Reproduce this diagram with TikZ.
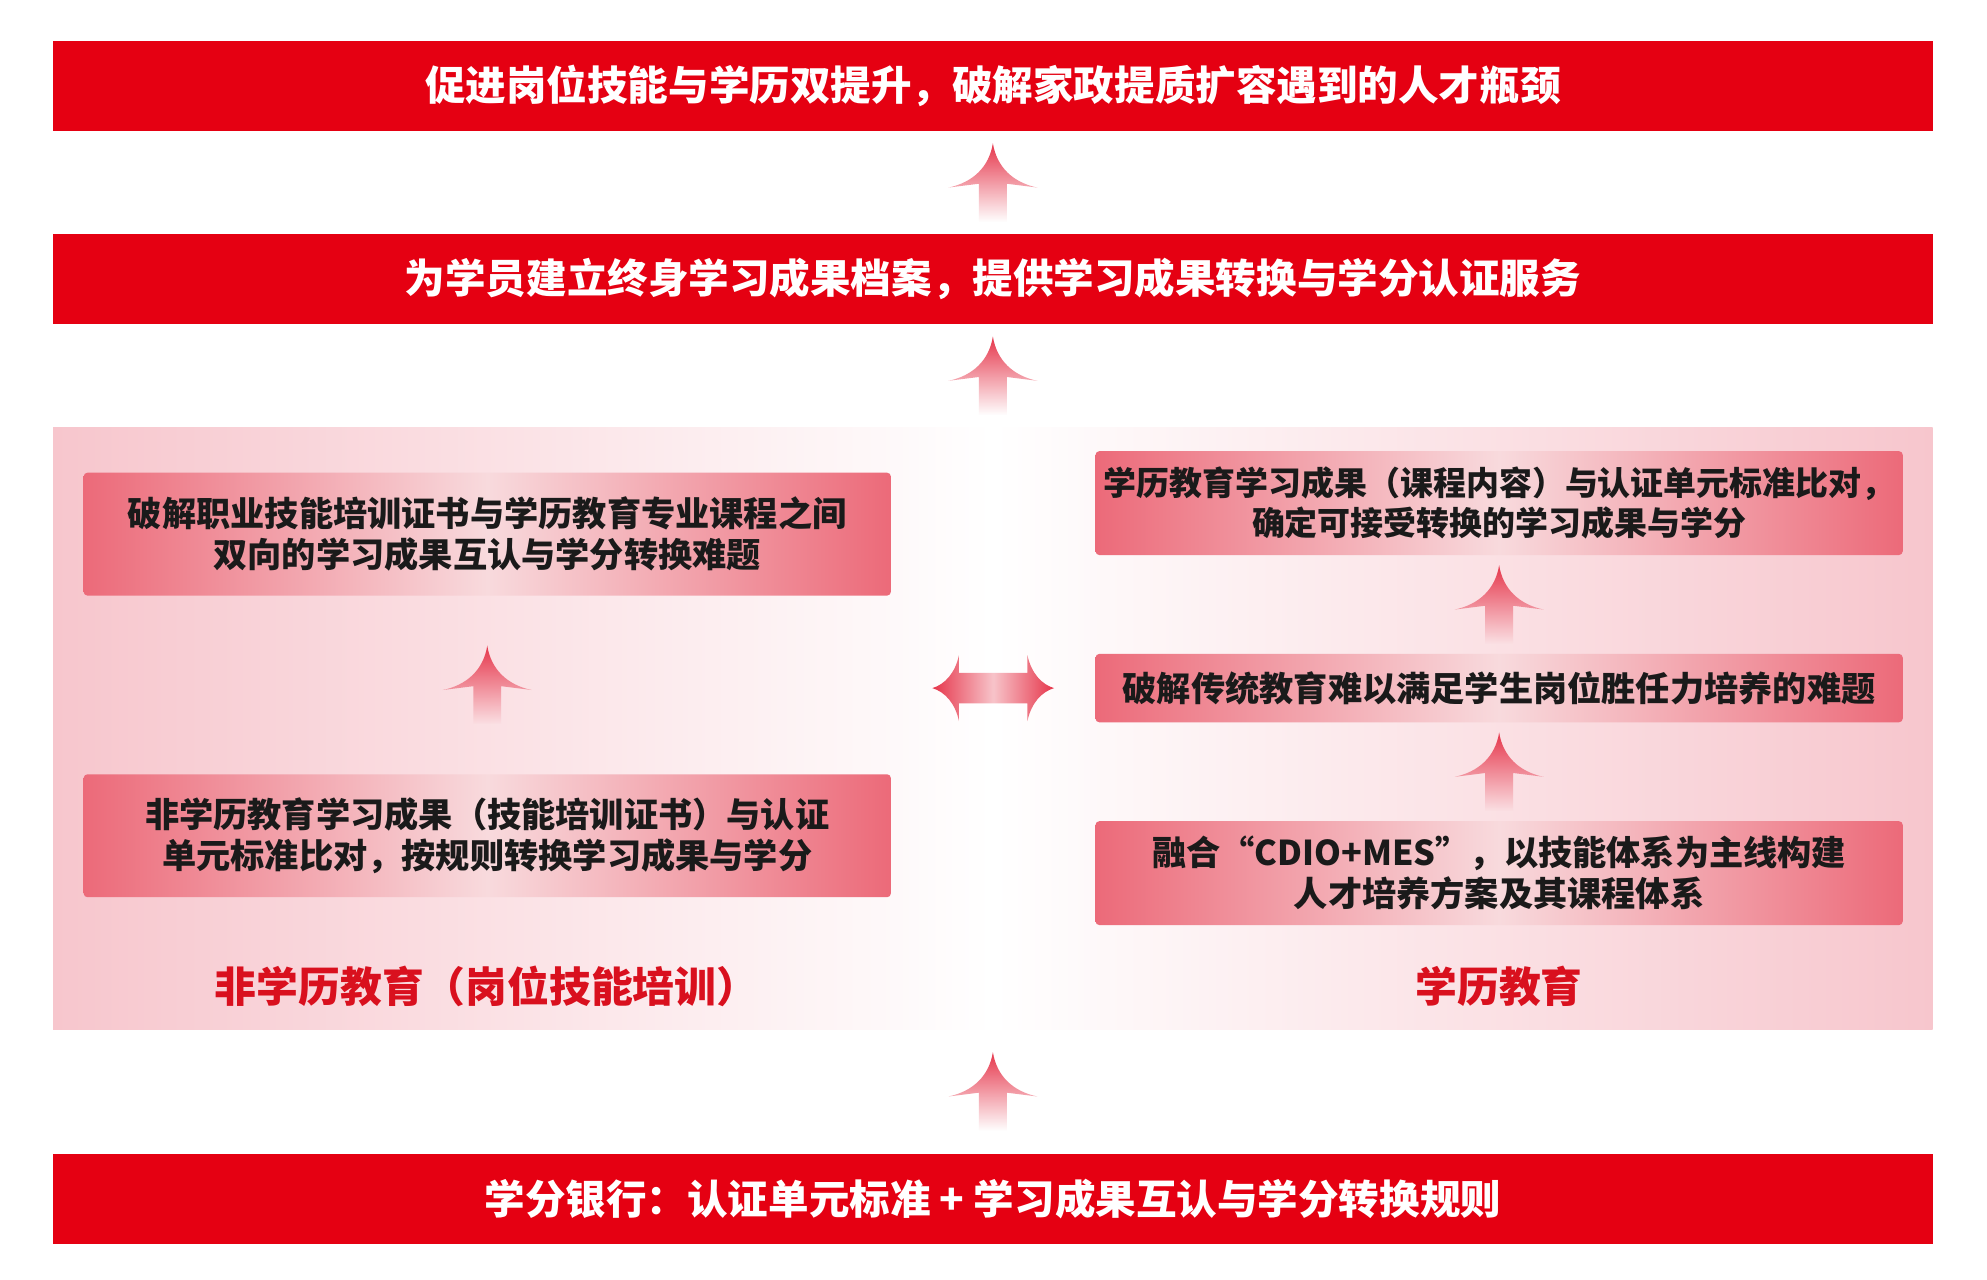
\documentclass[tikz,border=0pt]{standalone}
\usepackage{fontspec}
\setmainfont{Noto Sans CJK SC}[BoldFont={Noto Sans CJK SC Black}]
\usetikzlibrary{calc,fadings}

\definecolor{barred}{HTML}{E50012}
\definecolor{arrowred}{HTML}{E6364B}
\definecolor{boxred}{HTML}{EC6A79}
\definecolor{boxlight}{HTML}{F8DADD}
\definecolor{panelpink}{HTML}{F7C6CD}
\definecolor{labred}{HTML}{D9101E}
\definecolor{txt}{HTML}{1A1A1A}

\tikzfading[name=fadedown, top color=transparent!0, bottom color=transparent!100]

\tikzset{
	redbar/.style={fill=barred, text=white, minimum width=1483pt, minimum height=71pt, inner sep=0pt, font=\bfseries\fontsize{32}{38}\selectfont},
	pinkbox/.style={left color=boxred, right color=boxred, middle color=boxlight, rounded corners=3pt, minimum width=637pt, inner sep=0pt, align=center, text=txt, font=\bfseries\fontsize{27}{32}\selectfont},
	track/.style={left color=panelpink, right color=panelpink, middle color=white, minimum width=1483pt, minimum height=475pt, inner sep=0pt},
	sidelabel/.style={text=labred, font=\bfseries\fontsize{33}{38}\selectfont}
}

% arrow pointing up, centred in the gap between two nodes
\newcommand{\risearrow}[2]{%
	\fill[arrowred, path fading=fadedown, shift={($(#1.north)!0.5!(#2.south)$)}]
		(0,-31) .. controls (3,-12) and (16,0) .. (35,4) -- (11,1) -- (11,31) -- (-11,31) -- (-11,1) -- (-35,4) .. controls (-16,0) and (-3,-12) .. (0,-31) -- cycle;}

\begin{document}
\begin{tikzpicture}[x=1pt, y=-1pt]
	\fill[white] (0,0) rectangle (1568,1010);
	\useasboundingbox (0,0) rectangle (1568,1010);

	\node[redbar] (goal) at (783.5,67.5) {促进岗位技能与学历双提升，破解家政提质扩容遇到的人才瓶颈};
	\node[redbar] (archive) at (783.5,220.5) {为学员建立终身学习成果档案，提供学习成果转换与学分认证服务};
	\node[track] (panel) at (783.5,574.5) {};
	\node[redbar] (bank) at (783.5,946) {学分银行：认证单元标准 + 学习成果互认与学分转换规则};

	\node[pinkbox, minimum height=97pt] (nonA) at (384.5,421.5) {破解职业技能培训证书与学历教育专业课程之间\\双向的学习成果互认与学分转换难题};
	\node[pinkbox, minimum height=97pt] (nonB) at (384.5,659.5) {非学历教育学习成果（技能培训证书）与认证\\单元标准比对，按规则转换学习成果与学分};
	\node[sidelabel] (nonlab) at (384,778) {非学历教育（岗位技能培训）};

	\node[pinkbox, minimum height=82pt, font=\bfseries\fontsize{26}{32}\selectfont] (eduC) at (1183,397) {学历教育学习成果（课程内容）与认证单元标准比对，\\确定可接受转换的学习成果与学分};
	\node[pinkbox, minimum height=54pt] (eduD) at (1183,543) {破解传统教育难以满足学生岗位胜任力培养的难题};
	\node[pinkbox, minimum height=82pt] (eduE) at (1183,689) {融合“CDIO+MES”，以技能体系为主线构建\\人才培养方案及其课程体系};
	\node[sidelabel] (edulab) at (1183,778) {学历教育};

	\risearrow{archive}{goal}
	\risearrow{panel}{archive}
	\risearrow{bank}{panel}
	\risearrow{nonB}{nonA}
	\risearrow{eduD}{eduC}
	\risearrow{eduE}{eduD}

	\coordinate (swap) at ($(nonA.east)!0.5!(eduD.west)$);
	\shade[left color=arrowred, right color=arrowred, middle color=boxred!40!white, shift={(swap |- eduD)}]
		(-48,0) .. controls (-38,-3) and (-30,-12) .. (-27,-26) -- (-27,-12) -- (27,-12) -- (27,-26) .. controls (30,-12) and (38,-3) .. (48,0)
		.. controls (38,3) and (30,12) .. (27,26) -- (27,12) -- (-27,12) -- (-27,26) .. controls (-30,12) and (-38,3) .. (-48,0) -- cycle;
\end{tikzpicture}
\end{document}
